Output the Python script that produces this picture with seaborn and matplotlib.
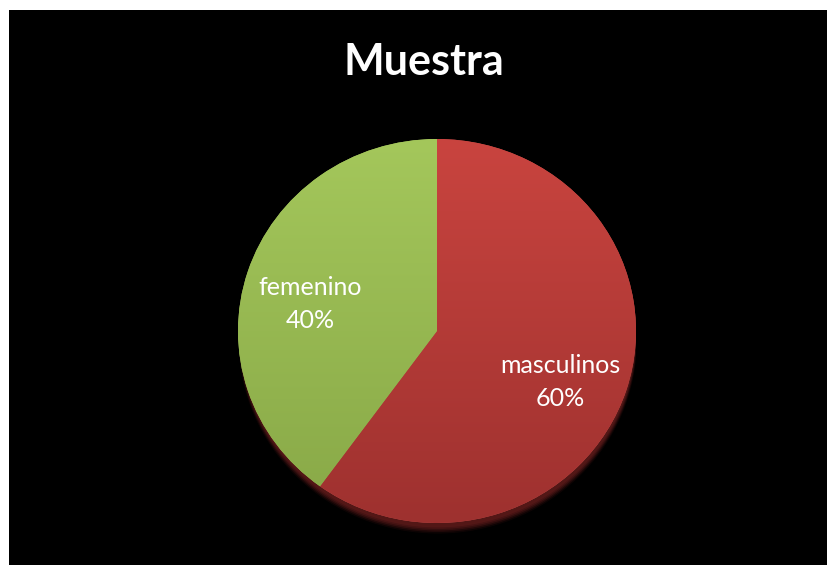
import numpy as np
import matplotlib
matplotlib.use("Agg")
import matplotlib.pyplot as plt
import matplotlib.transforms as mtransforms
from matplotlib.patches import Rectangle, Ellipse
from matplotlib.colors import LinearSegmentedColormap
import seaborn as sns

# Sample composition by sex
categories = ["masculinos", "femenino"]
shares = [60, 40]
title = "Muestra"

sns.set_theme(style="white")
plt.rcParams["font.family"] = ["Lato", "DejaVu Sans"]

W, H = 827, 565
fig = plt.figure(figsize=(W / 100, H / 100), dpi=100, facecolor="white")

# black chart area inside a thin white margin
fig.patches.append(Rectangle((9 / W, -0.02), 1.1, 1.02 - 10 / H, transform=fig.transFigure,
                             facecolor="black", edgecolor="none", zorder=-10))

# pie axes (slightly flattened, as in a tilted 3-D pie)
cx, cy, rx, ry = 437, 331, 199, 192
ax = fig.add_axes([(cx - rx) / W, 1 - (cy + 1.06 * ry) / H, 2 * rx / W, 2.06 * ry / H])
ax.set_aspect("auto")
ax.axis("off")

# soft drop shadow under the pie
for k, a in enumerate(np.linspace(0.25, 1.0, 5)):
    off = 0.055 - k * 0.006
    ax.add_patch(Ellipse((0.004, -off), 2.0 - k * 0.004, 2.0 - k * 0.004,
                         facecolor="#5e1b1a", edgecolor="none", alpha=a * 0.55, zorder=0))

palette = sns.color_palette(["#C0504D", "#9BBB59"])
labels = [f"{c}\n{v}%" for c, v in zip(categories, shares)]
wedges, texts = ax.pie(shares, labels=labels, colors=palette, startangle=90,
                       counterclock=False, radius=1.0, labeldistance=0.66,
                       wedgeprops=dict(linewidth=0, zorder=1),
                       textprops=dict(color="white", fontsize=18, linespacing=1.55))
label_shift = mtransforms.ScaledTranslation(-2 / 100, -12 / 100, fig.dpi_scale_trans)
for t in texts:
    t.set_ha("center")
    t.set_va("center")
    t.set_zorder(5)
    t.set_transform(t.get_transform() + label_shift)

# vertical shading on each slice face
grads = [("#C9443F", "#9E312F"), ("#A4C75B", "#88A847")]
yy = np.linspace(1, 0, 256).reshape(-1, 1) * np.ones((1, 4))
for w, (top, bot) in zip(wedges, grads):
    cmap = LinearSegmentedColormap.from_list("g", [bot, top])
    im = ax.imshow(yy, cmap=cmap, extent=(-1, 1, -1, 1), aspect="auto",
                   origin="upper", zorder=2, interpolation="bilinear")
    im.set_clip_path(w)

ax.set_xlim(-1, 1)
ax.set_ylim(-1.06, 1)

fig.text(424 / W, 1 - 75 / H, title, color="white", fontsize=31, fontweight="bold",
         ha="center", va="baseline")

fig.savefig("out.png", dpi=100, facecolor=fig.get_facecolor())
